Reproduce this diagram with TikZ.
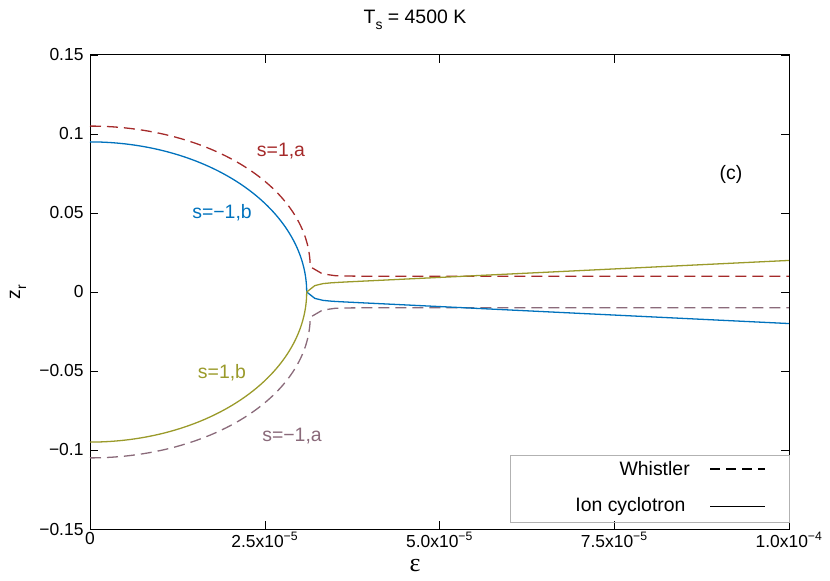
\documentclass[tikz,border=0pt]{standalone}
\usepackage{fontspec}
\setmainfont{Liberation Sans}
\newfontfamily\greekfont{Liberation Serif}
\usetikzlibrary{positioning}
\definecolor{cred}{HTML}{A52A2A}
\definecolor{cblue}{HTML}{0072BD}
\definecolor{colive}{HTML}{9A9A2A}
\definecolor{cmauve}{HTML}{8A6A7A}
\newcommand{\lowsub}[1]{\raisebox{-0.3em}{\fontsize{14}{16}\selectfont #1}}
\tikzset{
  curve/.style={line width=1.3pt},
  whist/.style={curve, dash pattern=on 11bp off 6bp},
  tick/.style={font=\fontsize{17.5}{20}\selectfont},
  lab/.style={font=\fontsize{19.5}{22}\selectfont}
}
\begin{document}
\begin{tikzpicture}[x=1bp,y=1bp]
	\useasboundingbox (0,0) rectangle (830,581);
	\begin{scope}[shift={(90,289)}, x=69.9bp, y=15.8bp]
		% frame and ticks
		\draw[line width=1pt] (0,-15) rectangle (10,15);
		\foreach \v/\t in {-15/−0.15,-10/−0.1,-5/−0.05,0/0,5/0.05,10/0.1,15/0.15} {
			\draw (0,\v) -- ++(8bp,0);
			\draw (10,\v) -- ++(-8bp,0);
			\node[tick, left=3bp of {(0,\v)}] (y\v) {\t};
		}
		\foreach \u/\t in {0/0,2.5/2.5x10\textsuperscript{−5},5/5.0x10\textsuperscript{−5},7.5/7.5x10\textsuperscript{−5},10/1.0x10\textsuperscript{−4}} {
			\draw (\u,-15) -- ++(0,8bp);
			\draw (\u,15) -- ++(0,-8bp);
			\node[tick, below=0bp of {(\u,-15)}] (x\u) {\t};
		}
		% whistler branches
		\draw[whist, cred] plot[domain=0:90, samples=60] ({3.15*sin(\x)}, {1.6+8.9*cos(\x)})
			-- plot[domain=3.15:10, samples=40] (\x, {1+0.6*exp(-8*(\x-3.15))});
		\draw[whist, cmauve] plot[domain=0:90, samples=60] ({3.15*sin(\x)}, {-1.6-8.9*cos(\x)})
			-- plot[domain=3.15:10, samples=40] (\x, {-1-0.6*exp(-8*(\x-3.15))});
		% ion cyclotron branches
		\draw[curve, cblue] plot[domain=0:90, samples=60] ({3.1*sin(\x)}, {9.5*cos(\x)})
			-- plot[domain=3.1:10, samples=60] (\x, {-(0.6+0.215*(\x-3.5))*(1-exp(-12*(\x-3.1)))});
		\draw[curve, colive] plot[domain=0:90, samples=60] ({3.1*sin(\x)}, {-9.5*cos(\x)})
			-- plot[domain=3.1:10, samples=60] (\x, {(0.6+0.215*(\x-3.5))*(1-exp(-12*(\x-3.1)))});
		% legend
		\draw[gray!60] (6.01,-14.6) rectangle (10,-10.3);
		\node[lab, anchor=east] (lw) at (8.63,-11.2) {Whistler};
		\node[lab, anchor=east] (li) at (8.57,-13.55) {Ion cyclotron};
		\draw[whist, line width=1.1pt, dash pattern=on 10bp off 6bp] (8.87,-11.2) -- (9.66,-11.2);
		\draw[line width=1.1pt] (8.87,-13.55) -- (9.66,-13.55);
	\end{scope}
	% curve labels
	\node[lab, text=cred] (sa1) at (281,430) {s=1,a};
	\node[lab, text=cblue] (sb2) at (222,368) {s=−1,b};
	\node[lab, text=colive] (sb1) at (222,208) {s=1,b};
	\node[lab, text=cmauve] (sa2) at (292,145) {s=−1,a};
	\node[lab] (pc) at (731,407) {(c)};
	% titles
	\node[lab] (title) at (415,561) {T\lowsub{s} = 4500 K};
	\node[lab, rotate=90] (ylab) at (18,289) {z\lowsub{r}};
	\node[font=\fontsize{26}{28}\selectfont\greekfont] (xlab) at (415,15) {ε};
\end{tikzpicture}
\end{document}
